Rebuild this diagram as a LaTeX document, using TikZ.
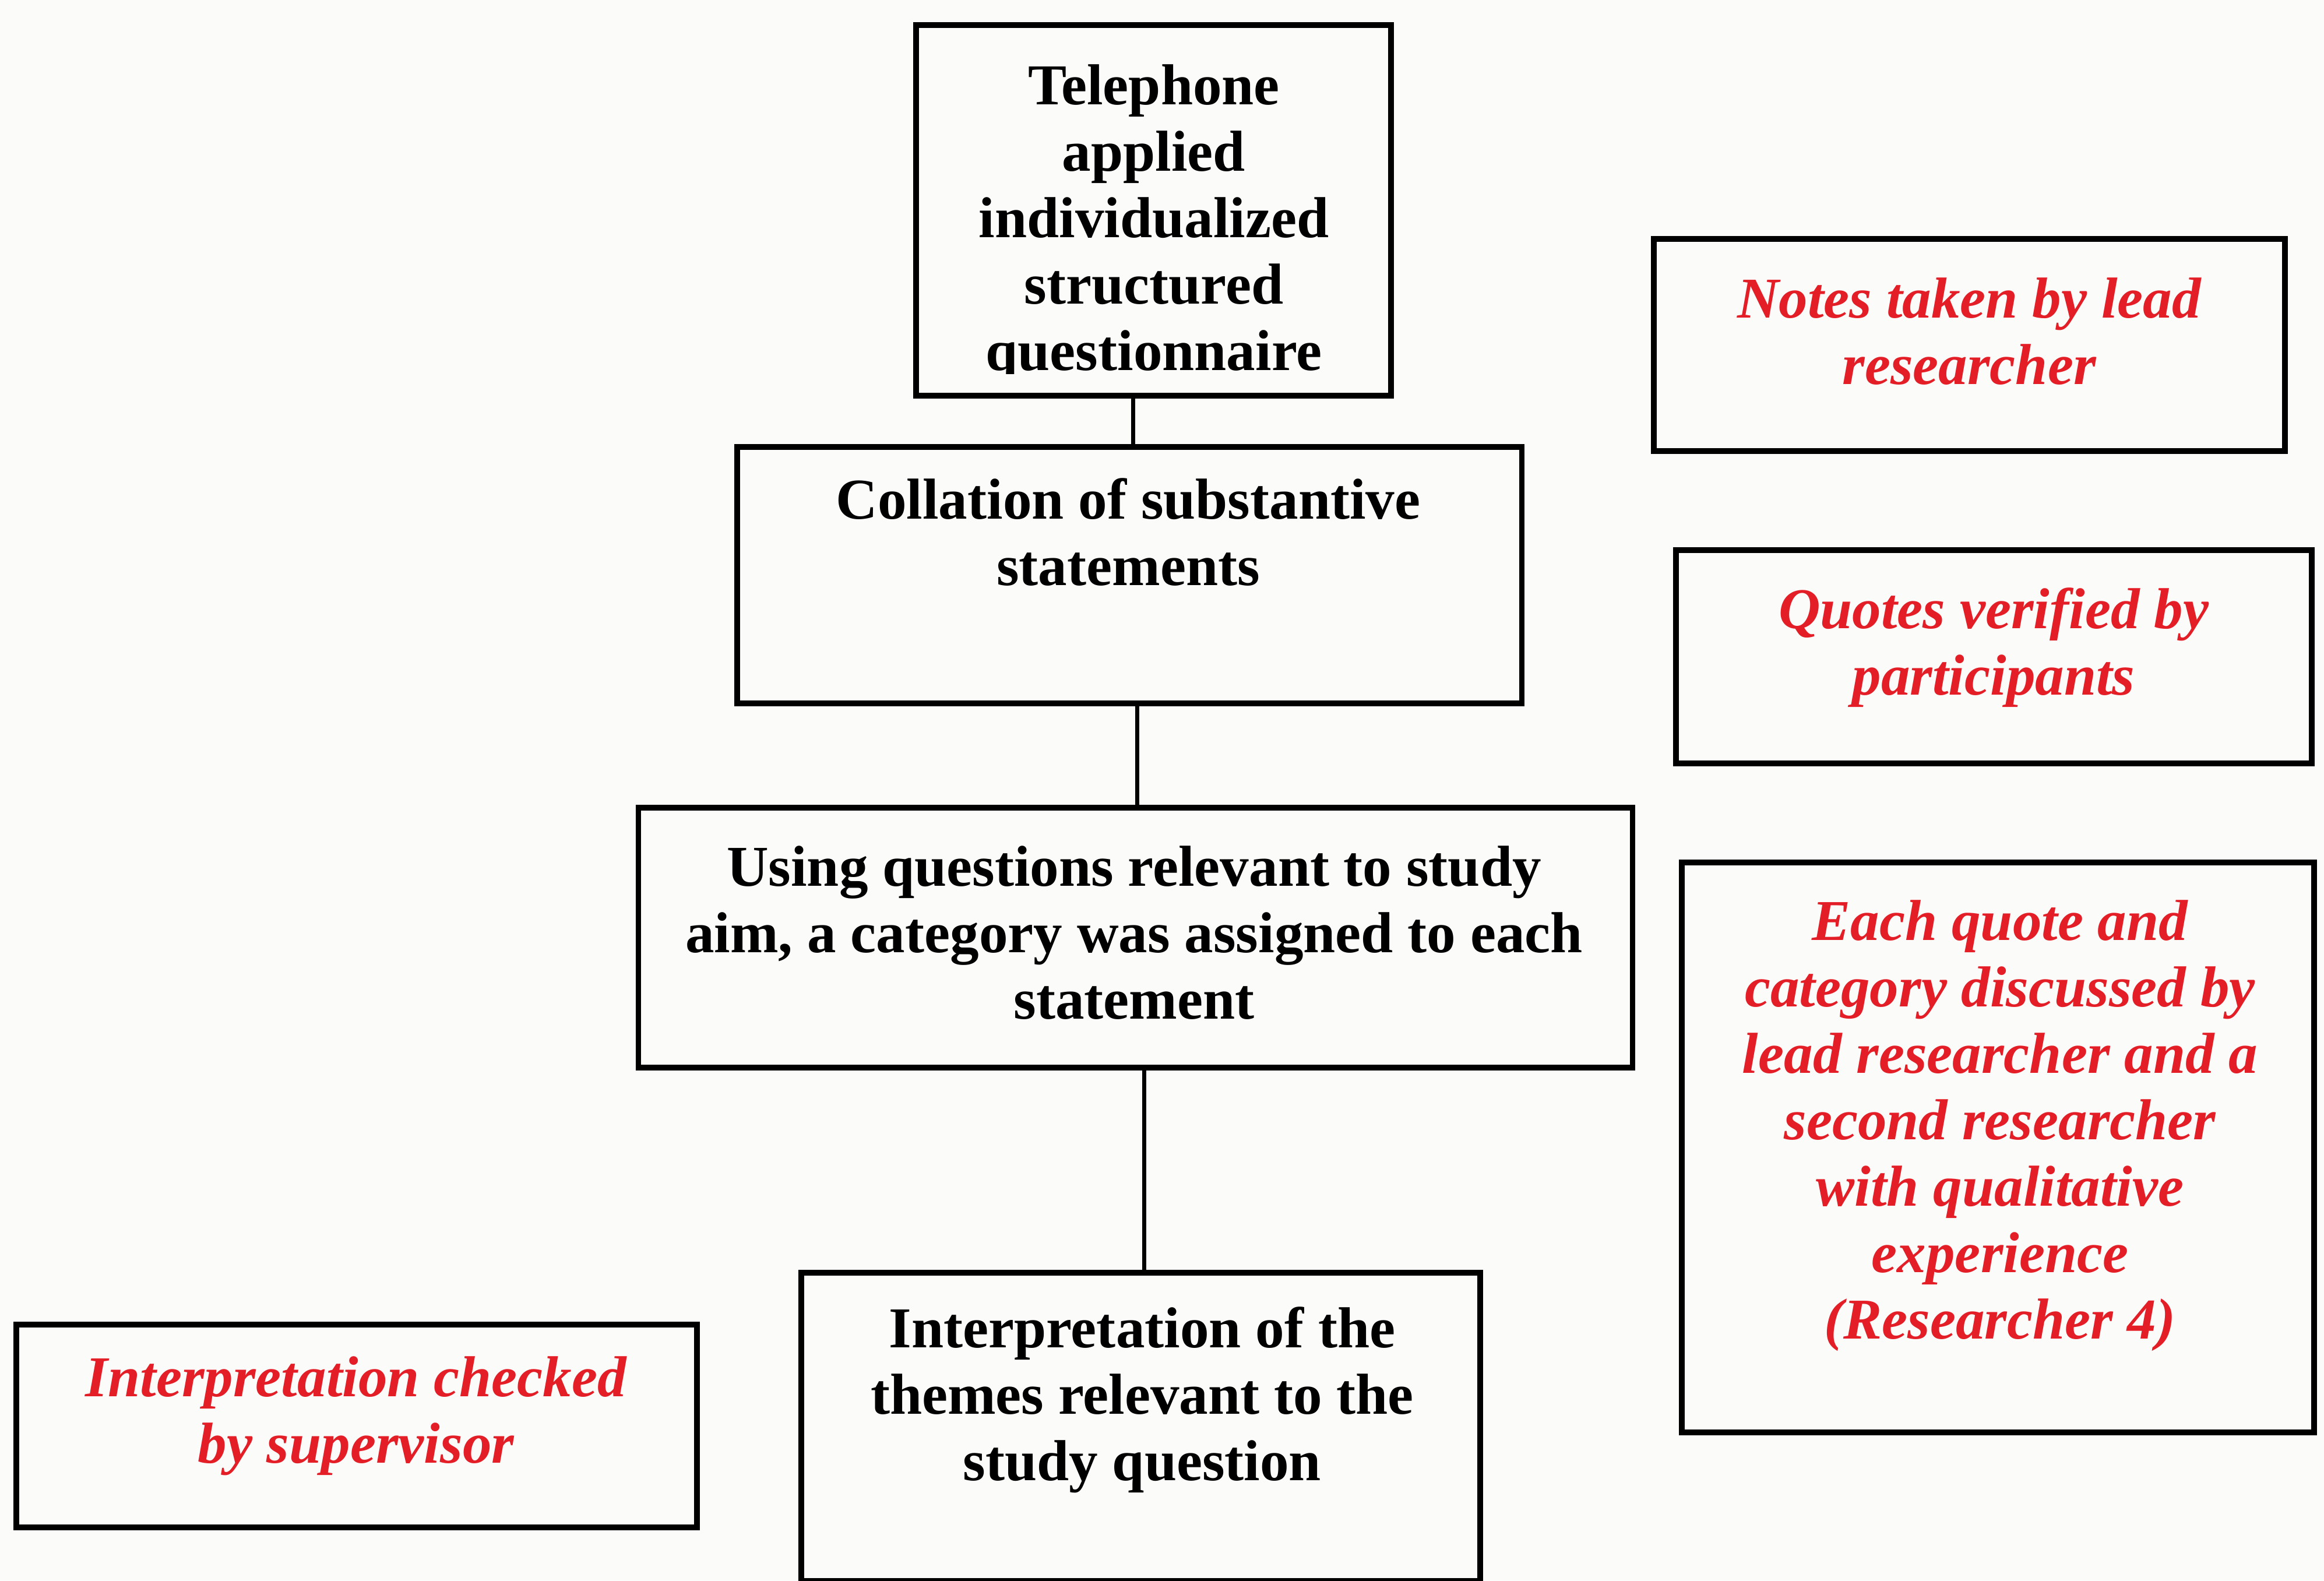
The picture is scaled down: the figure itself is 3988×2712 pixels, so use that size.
\documentclass[tikz,border=0pt]{standalone}
\usepackage{fontspec}
\setmainfont{Liberation Serif}
\definecolor{notered}{RGB}{228,30,38}
\definecolor{paper}{RGB}{251,251,250}
\begin{document}
\begin{tikzpicture}[x=0.01cm,y=-0.01cm,
  stepbox/.style={draw=black, line width=2.8pt, inner sep=0pt},
  link/.style={draw=black, line width=2pt},
  steptext/.style={font=\bfseries\fontsize{28.2}{32.4}\selectfont, align=center, inner sep=0pt, anchor=base},
  notetext/.style={font=\bfseries\itshape\fontsize{28.2}{32.4}\selectfont, text=notered, align=center, inner sep=0pt, anchor=base}]

% page
\fill[paper] (0,0) rectangle (3988,2712);
\useasboundingbox (0,0) rectangle (3988,2712);

% main process boxes
\node[stepbox, minimum width=8.15cm,  minimum height=6.36cm] (tel)    at (1979.5,361)  {};
\node[stepbox, minimum width=13.46cm, minimum height=4.40cm] (col)    at (1938,987)    {};
\node[stepbox, minimum width=17.05cm, minimum height=4.46cm] (use)    at (1948.5,1609) {};
\node[stepbox, minimum width=11.65cm, minimum height=5.29cm] (interp) at (1957.5,2448.5) {};

% quality checks
\node[stepbox, minimum width=10.83cm, minimum height=3.64cm] (notes)  at (3379.5,592)  {};
\node[stepbox, minimum width=10.91cm, minimum height=3.66cm] (quotes) at (3421.5,1127) {};
\node[stepbox, minimum width=10.85cm, minimum height=9.78cm] (each)   at (3428.5,1969) {};
\node[stepbox, minimum width=11.68cm, minimum height=3.48cm] (sup)    at (612,2447)    {};

% connectors
\draw[link] (tel.south -| 1944,0) -- (col.north -| 1944,0);
\draw[link] (col.south -| 1951,0) -- (use.north -| 1951,0);
\draw[link] (use.south -| 1963,0) -- (interp.north -| 1963,0);

% box texts (anchored at the baseline of the last line)
\begin{scope}
  \clip (1580,50) rectangle (2380,641);
  \node[steptext] (telt) at (1980,635) {Telephone\\applied\\individualized\\structured\\questionnaire};
\end{scope}
\node[steptext] (colt) at (1936,1004) {Collation of substantive\\statements};
\node[steptext] (uset) at (1946,1748) {Using questions relevant to study\\aim, a category was assigned to each\\statement};
\node[steptext] (interpt) at (1960,2540) {Interpretation of the\\themes relevant to the\\study question};

\node[notetext] (notest) at (3379,659) {Notes taken by lead\\researcher};
\node[notetext] (quotest) at (3421,1192) {Quotes verified by\\participants};
\node[notetext] (eacht) at (3432,2297) {Each quote and\\category discussed by\\lead researcher and a\\second researcher\\with qualitative\\experience\\(Researcher 4)};
\node[notetext] (supt) at (611,2510) {Interpretation checked\\by supervisor};

\end{tikzpicture}
\end{document}
